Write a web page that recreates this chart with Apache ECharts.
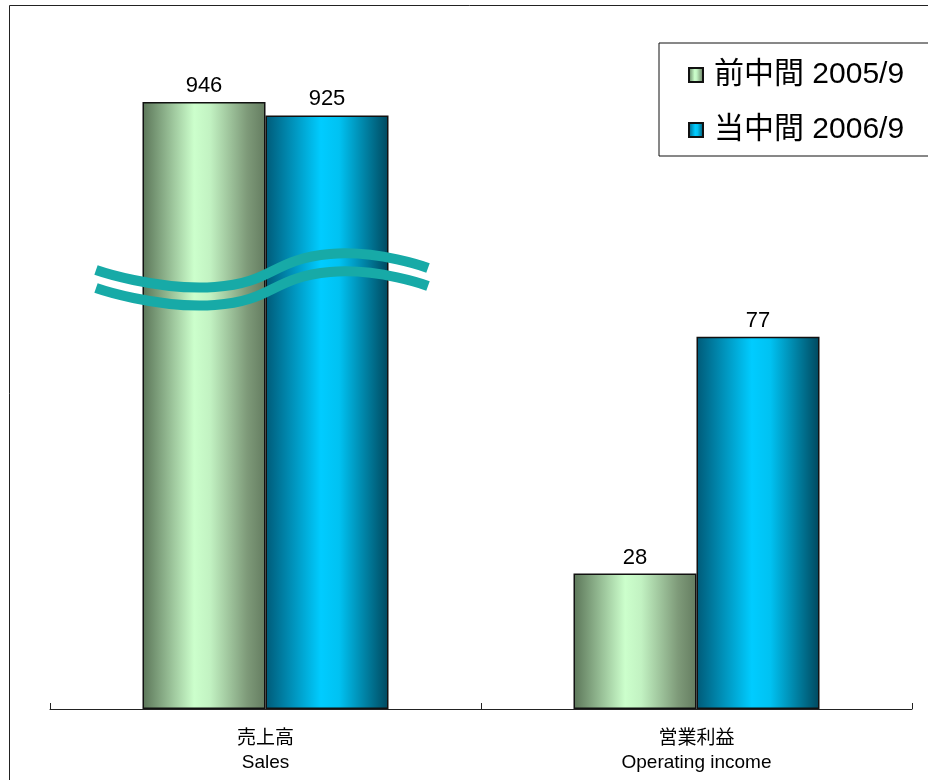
<!DOCTYPE html>
<html>
<head>
<meta charset="utf-8">
<script src="https://cdn.jsdelivr.net/npm/echarts@6/dist/echarts.min.js"></script>
<style>
  html, body { margin: 0; padding: 0; background: #fff; }
  #main { width: 928px; height: 780px; }
</style>
</head>
<body>
<div id="main"></div>
<script>
var categories = ['売上高\nSales', '営業利益\nOperating income'];
var seriesNames = ['前中間 2005/9', '当中間 2006/9'];
var prevValues = [946, 28];
var currValues = [925, 77];

// the two groups sit on different scales (hence the break marks)
var axisMax = [1055, 140];

var fontFam = "'Liberation Sans', 'Noto Sans CJK JP', sans-serif";

function grad(stops) {
  return new echarts.graphic.LinearGradient(0, 0, 1, 0, stops);
}
var prevColor = grad([
  { offset: 0, color: '#5b7558' },
  { offset: 0.42, color: '#ccffcc' },
  { offset: 0.55, color: '#c2f2c2' },
  { offset: 0.85, color: '#7e9a79' },
  { offset: 1, color: '#647c60' }
]);
var currColor = grad([
  { offset: 0, color: '#005a78' },
  { offset: 0.45, color: '#00ccff' },
  { offset: 0.6, color: '#00c2f2' },
  { offset: 1, color: '#00485e' }
]);

var chart = echarts.init(document.getElementById('main'));

var grids = [
  { left: 50, right: 447, top: 32, bottom: 71 },
  { left: 481, right: 16, top: 32, bottom: 71 }
];

var xAxes = [], yAxes = [], series = [];
for (var i = 0; i < categories.length; i++) {
  xAxes.push({
    type: 'category',
    gridIndex: i,
    data: [categories[i]],
    boundaryGap: true,
    axisLine: { show: true, lineStyle: { color: '#222', width: 1 } },
    axisTick: {
      show: true, inside: true, length: 6, interval: 0, alignWithLabel: false,
      lineStyle: { color: '#222', width: 1 }
    },
    axisLabel: { color: '#000', fontSize: 19, lineHeight: 24, margin: 18, fontFamily: fontFam }
  });
  yAxes.push({
    type: 'value',
    gridIndex: i,
    min: 0,
    max: axisMax[i],
    show: false,
    splitLine: { show: false }
  });
  var vals = [prevValues[i], currValues[i]];
  var cols = [prevColor, currColor];
  for (var s = 0; s < 2; s++) {
    series.push({
      name: seriesNames[s],
      type: 'bar',
      xAxisIndex: i,
      yAxisIndex: i,
      data: [vals[s]],
      barWidth: 123,
      barGap: '0%',
      itemStyle: { color: cols[s], borderColor: '#111', borderWidth: 1.5 },
      label: {
        show: true, position: 'top', distance: 5,
        color: '#000', fontSize: 22, fontFamily: fontFam
      },
      emphasis: { disabled: true }
    });
  }
}

var option = {
  animation: false,
  backgroundColor: '#fff',
  grid: grids,
  xAxis: xAxes,
  yAxis: yAxes,
  series: series,
  legend: {
    data: seriesNames,
    orient: 'vertical',
    left: 659,
    top: 43,
    backgroundColor: '#fff',
    borderColor: '#111',
    borderWidth: 1,
    borderRadius: 0,
    padding: [16, 60, 10, 29],
    itemGap: 23,
    itemWidth: 14,
    itemHeight: 14,
    icon: 'rect',
    selectedMode: false,
    textStyle: {
      color: '#000', fontSize: 30, lineHeight: 32,
      fontFamily: fontFam, padding: [0, 0, 0, 6]
    }
  },
  graphic: [
    {
      type: 'rect', silent: true, z: -1,
      shape: { x: 9.5, y: 5.5, width: 940, height: 800 },
      style: { fill: 'none', stroke: '#222', lineWidth: 1 }
    },
    {
      type: 'polyline', silent: true, z: 100,
      shape: { points: [[96, 270], [215, 287], [330, 254], [428, 268]], smooth: 0.5 },
      style: { fill: 'none', stroke: '#17aaa7', lineWidth: 10 }
    },
    {
      type: 'polyline', silent: true, z: 100,
      shape: { points: [[96, 288], [215, 305], [330, 272], [428, 286]], smooth: 0.5 },
      style: { fill: 'none', stroke: '#17aaa7', lineWidth: 10 }
    }
  ]
};

chart.setOption(option);
</script>
</body>
</html>
